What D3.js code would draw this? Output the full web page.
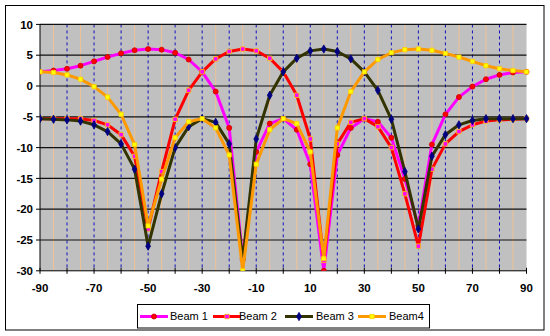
<!DOCTYPE html>
<html><head><meta charset="utf-8">
<script src="https://cdn.jsdelivr.net/npm/d3@7"></script>
<style>
body{margin:0;background:#fff;}
svg{display:block;font-family:"Liberation Sans",Arial,sans-serif;}
</style>
</head><body>
<svg id="c" width="550" height="336"></svg>
<script>
// ---- data (one point every 5 degrees) ----
const angles = [-90,-85,-80,-75,-70,-65,-60,-55,-50,-45,-40,-35,-30,-25,-20,-15,-10,-5,0,5,10,15,20,25,30,35,40,45,50,55,60,65,70,75,80,85,90];
const beam1 = [2.3,2.5,2.8,3.3,4.0,4.7,5.3,5.8,6.0,5.9,5.4,4.3,2.3,-0.9,-6.8,-28.0,-10.7,-6.1,-5.3,-7.1,-12.7,-30.0,-11.2,-6.8,-5.3,-5.8,-8.4,-15.1,-22.7,-9.5,-4.6,-1.8,-0.1,1.1,1.8,2.2,2.3];
const beam2 = [-5.3,-5.3,-5.3,-5.3,-5.6,-6.3,-7.9,-11.4,-23.2,-13.9,-5.4,-0.7,2.3,4.4,5.6,6.0,5.7,4.5,2.3,-1.5,-8.6,-28.3,-9.4,-5.9,-5.3,-6.6,-10.0,-17.5,-26.0,-13.5,-9.4,-7.4,-6.3,-5.7,-5.5,-5.4,-5.3];
const beam3 = [-5.3,-5.4,-5.5,-5.7,-6.3,-7.4,-9.4,-13.5,-26.0,-17.5,-10.0,-6.6,-5.3,-5.9,-9.4,-28.3,-8.6,-1.5,2.3,4.5,5.7,6.0,5.6,4.4,2.3,-0.7,-5.4,-13.9,-23.2,-11.4,-7.9,-6.3,-5.6,-5.3,-5.3,-5.3,-5.3];
const beam4 = [2.3,2.2,1.8,1.1,-0.1,-1.8,-4.6,-9.5,-22.7,-15.1,-8.4,-5.8,-5.3,-6.8,-11.2,-30.0,-12.7,-7.1,-5.3,-6.1,-10.7,-28.0,-6.8,-0.9,2.3,4.3,5.4,5.9,6.0,5.8,5.3,4.7,4.0,3.3,2.8,2.5,2.3];
const seriesNames = ["Beam 1","Beam 2","Beam 3","Beam4"];
const xTickLabels = [-90,-70,-50,-30,-10,10,30,50,70,90];
const yTickLabels = [10,5,0,-5,-10,-15,-20,-25,-30];

// ---- styles ----
const styles = [
  {line:"#FF00FF", fill:"#FF0000", stroke:"#CC0000", sym:d3.symbolCircle, size:20},
  {line:"#FF0000", fill:"#FF00FF", stroke:"#FFCC00", sym:d3.symbolSquare, size:20},
  {line:"#333300", fill:"#000080", stroke:"#000080", sym:d3.symbolDiamond, size:20},
  {line:"#FF9900", fill:"#FFFF00", stroke:"#FFCC00", sym:d3.symbolSquare, size:18}
];
const seriesData = [beam1, beam2, beam3, beam4];

const svg = d3.select("#c");
const P = {l:40, r:526.5, t:24.4, b:270.8};
const x = d3.scaleLinear().domain([-90,90]).range([P.l, P.r]);
const y = d3.scaleLinear().domain([-30,10]).range([P.b, P.t]);

// outer frame
svg.append("rect").attr("x",5.5).attr("y",5.5).attr("width",538.5).attr("height",324.5)
  .attr("fill","#fff").attr("stroke","#000").attr("stroke-width",1);

// plot area
svg.append("rect").attr("x",P.l).attr("y",P.t).attr("width",P.r-P.l).attr("height",P.b-P.t).attr("fill","#C0C0C0");

const grid = svg.append("g");
// minor vertical lines (tan) every 5 deg
grid.selectAll(".vmin").data(x.ticks(36).filter(v => v%10 !== 0)).join("line")
  .attr("x1",d=>x(d)).attr("x2",d=>x(d)).attr("y1",P.t).attr("y2",P.b)
  .attr("stroke","#F0C294").attr("stroke-width",1);
// major vertical lines (blue dashed) every 10 deg
grid.selectAll(".vmaj").data(x.ticks(18).filter(v => v>-90 && v<90)).join("line")
  .attr("x1",d=>x(d)).attr("x2",d=>x(d)).attr("y1",P.t).attr("y2",P.b)
  .attr("stroke","#1010C0").attr("stroke-width",1).attr("stroke-dasharray","3,3");
// horizontal black lines
grid.selectAll(".h").data(yTickLabels.filter(v=>v>-30)).join("line")
  .attr("x1",P.l).attr("x2",P.r).attr("y1",d=>y(d)).attr("y2",d=>y(d))
  .attr("stroke","#111").attr("stroke-width",1.2);

// axes lines
svg.append("line").attr("x1",P.l).attr("x2",P.l).attr("y1",P.t).attr("y2",P.b).attr("stroke","#000");
svg.append("line").attr("x1",P.l).attr("x2",P.r).attr("y1",P.b).attr("y2",P.b).attr("stroke","#000");
// y ticks & labels
svg.selectAll(".yt").data(yTickLabels).join("line")
  .attr("x1",P.l-4).attr("x2",P.l).attr("y1",d=>y(d)).attr("y2",d=>y(d)).attr("stroke","#000");
svg.selectAll(".yl").data(yTickLabels).join("text")
  .attr("x",P.l-7).attr("y",d=>y(d)).attr("dy","0.36em").attr("text-anchor","end")
  .attr("font-size",11.5).attr("font-weight","bold").text(d=>d);
// x ticks & labels
svg.selectAll(".xt").data(x.ticks(18)).join("line")
  .attr("x1",d=>x(d)).attr("x2",d=>x(d)).attr("y1",P.b-3).attr("y2",P.b+3).attr("stroke","#000");
svg.selectAll(".xl").data(xTickLabels).join("text")
  .attr("x",d=>x(d)).attr("y",P.b+17).attr("dy","0.36em").attr("text-anchor","middle")
  .attr("font-size",11.5).attr("font-weight","bold").text(d=>d);

// series
svg.append("clipPath").attr("id","clip").append("rect")
  .attr("x",P.l).attr("y",P.t-4).attr("width",P.r-P.l+4).attr("height",P.b-P.t+4);
const plot = svg.append("g").attr("clip-path","url(#clip)");
const line = d3.line().x((d,i)=>x(angles[i])).y(d=>y(d));
seriesData.forEach((vals,k)=>{
  const s = styles[k];
  const g = plot.append("g");
  g.append("path").datum(vals).attr("d",line).attr("fill","none")
    .attr("stroke",s.line).attr("stroke-width",3).attr("stroke-linejoin","round");
  g.selectAll("path.m").data(vals).join("path").attr("class","m")
    .attr("transform",(d,i)=>`translate(${x(angles[i])},${y(d)})`)
    .attr("d",d3.symbol().type(s.sym).size(s.size))
    .attr("fill",s.fill).attr("stroke",s.stroke).attr("stroke-width",0.8);
});

// legend
const L = svg.append("g");
L.append("rect").attr("x",137.5).attr("y",304.5).attr("width",292).attr("height",23.5)
  .attr("fill","#fff").attr("stroke","#000");
const lx = [140, 213, 285, 358];
const tx = [170, 239, 316, 389];
seriesNames.forEach((n,k)=>{
  const s = styles[k], cy = 316.5;
  L.append("line").attr("x1",lx[k]).attr("x2",lx[k]+28).attr("y1",cy).attr("y2",cy)
    .attr("stroke",s.line).attr("stroke-width",3);
  L.append("path").attr("transform",`translate(${lx[k]+14},${cy})`)
    .attr("d",d3.symbol().type(s.sym).size(s.size))
    .attr("fill",s.fill).attr("stroke",s.stroke).attr("stroke-width",0.8);
  L.append("text").attr("x",tx[k]).attr("y",cy).attr("dy","0.36em")
    .attr("font-size",11).text(n);
});
</script>
</body></html>
